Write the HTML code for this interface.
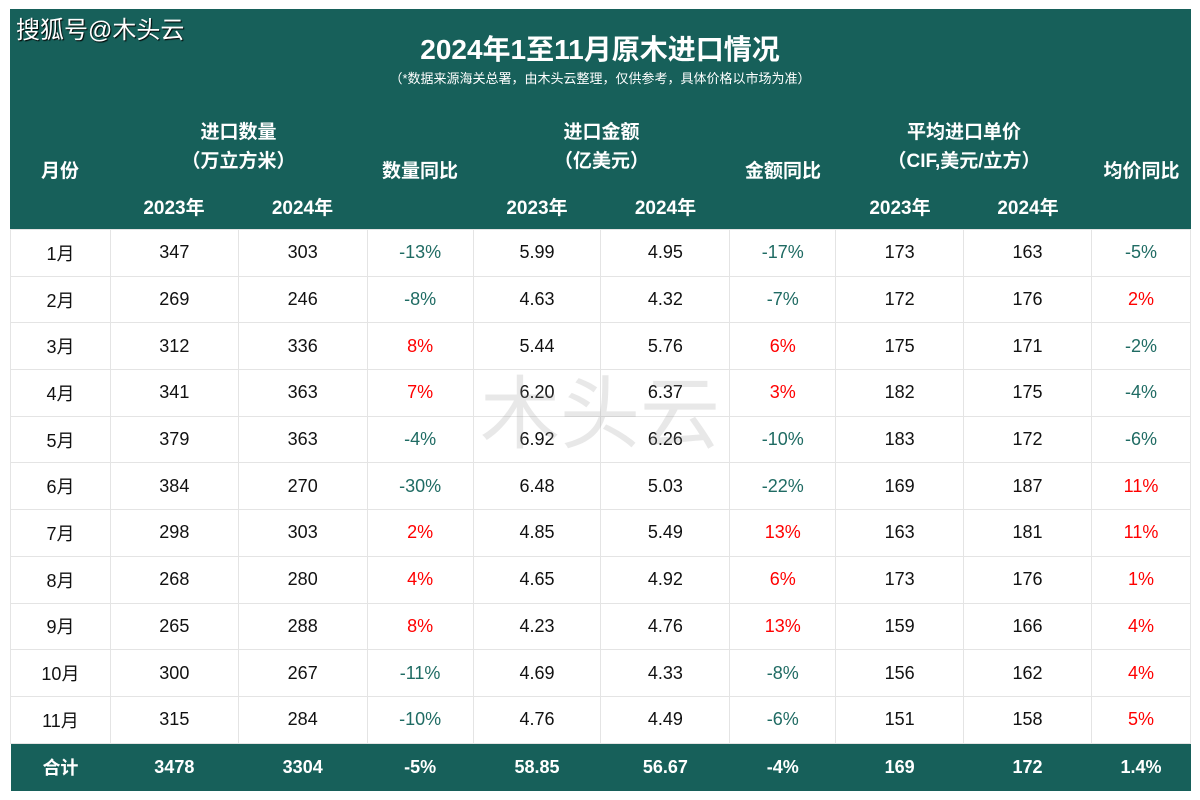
<!DOCTYPE html>
<html><head><meta charset="utf-8"><style>
body{margin:0;width:1200px;height:800px;background:#fff;position:relative;overflow:hidden;font-family:"Liberation Sans","Noto Sans CJK SC",sans-serif}
.a{position:absolute;text-align:center;white-space:nowrap}
.hd{position:absolute;left:10px;top:9px;width:1181px;height:220px;background:#17605a}
.w{color:#fff;font-weight:bold}
table{position:absolute;left:10px;top:229px;border-collapse:collapse;width:1181px}
td{height:45.7px;border:1px solid #e4e4e4;text-align:center;font-size:18px;color:#111;padding:0}
td:first-child{font-size:18px}
tr.t td{background:#17605a;color:#fff;font-weight:bold;height:47px;border:none}
.n{color:#1f6b63}.p{color:#f00}
.h{font-size:19px}
</style></head><body>
<div class="hd"></div>
<div class="a w" style="left:16px;top:10px;font-size:24px;font-weight:normal;text-shadow:1px 1px 1px #000">搜狐号@木头云</div>
<div class="a w" style="left:0;width:1200px;top:28px;font-size:28px">2024年1至11月原木进口情况</div>
<div class="a" style="left:0;width:1200px;top:68px;font-size:13px;color:#fff">（*数据来源海关总署，由木头云整理，仅供参考，具体价格以市场为准）</div>
<div class="a w h" style="left:10px;width:100px;top:156px">月份</div>
<div class="a w h" style="left:110px;width:257px;top:118px;line-height:29px">进口数量<br>（万立方米）</div>
<div class="a w h" style="left:110px;width:128px;top:193px">2023年</div>
<div class="a w h" style="left:238px;width:129px;top:193px">2024年</div>
<div class="a w h" style="left:367px;width:106px;top:156px">数量同比</div>
<div class="a w h" style="left:473px;width:257px;top:118px;line-height:29px">进口金额<br>（亿美元）</div>
<div class="a w h" style="left:473px;width:128px;top:193px">2023年</div>
<div class="a w h" style="left:601px;width:129px;top:193px">2024年</div>
<div class="a w h" style="left:730px;width:106px;top:156px">金额同比</div>
<div class="a w h" style="left:836px;width:256px;top:118px;line-height:29px">平均进口单价<br>（CIF,美元/立方）</div>
<div class="a w h" style="left:836px;width:128px;top:193px">2023年</div>
<div class="a w h" style="left:964px;width:128px;top:193px">2024年</div>
<div class="a w h" style="left:1092px;width:99px;top:156px">均价同比</div>
<table>
<colgroup><col style="width:100px"><col style="width:128px"><col style="width:129px"><col style="width:106px"><col style="width:128px"><col style="width:129px"><col style="width:106px"><col style="width:128px"><col style="width:128px"><col style="width:99px"></colgroup>
<tr><td>1月</td><td>347</td><td>303</td><td class="n">-13%</td><td>5.99</td><td>4.95</td><td class="n">-17%</td><td>173</td><td>163</td><td class="n">-5%</td></tr>
<tr><td>2月</td><td>269</td><td>246</td><td class="n">-8%</td><td>4.63</td><td>4.32</td><td class="n">-7%</td><td>172</td><td>176</td><td class="p">2%</td></tr>
<tr><td>3月</td><td>312</td><td>336</td><td class="p">8%</td><td>5.44</td><td>5.76</td><td class="p">6%</td><td>175</td><td>171</td><td class="n">-2%</td></tr>
<tr><td>4月</td><td>341</td><td>363</td><td class="p">7%</td><td>6.20</td><td>6.37</td><td class="p">3%</td><td>182</td><td>175</td><td class="n">-4%</td></tr>
<tr><td>5月</td><td>379</td><td>363</td><td class="n">-4%</td><td>6.92</td><td>6.26</td><td class="n">-10%</td><td>183</td><td>172</td><td class="n">-6%</td></tr>
<tr><td>6月</td><td>384</td><td>270</td><td class="n">-30%</td><td>6.48</td><td>5.03</td><td class="n">-22%</td><td>169</td><td>187</td><td class="p">11%</td></tr>
<tr><td>7月</td><td>298</td><td>303</td><td class="p">2%</td><td>4.85</td><td>5.49</td><td class="p">13%</td><td>163</td><td>181</td><td class="p">11%</td></tr>
<tr><td>8月</td><td>268</td><td>280</td><td class="p">4%</td><td>4.65</td><td>4.92</td><td class="p">6%</td><td>173</td><td>176</td><td class="p">1%</td></tr>
<tr><td>9月</td><td>265</td><td>288</td><td class="p">8%</td><td>4.23</td><td>4.76</td><td class="p">13%</td><td>159</td><td>166</td><td class="p">4%</td></tr>
<tr><td>10月</td><td>300</td><td>267</td><td class="n">-11%</td><td>4.69</td><td>4.33</td><td class="n">-8%</td><td>156</td><td>162</td><td class="p">4%</td></tr>
<tr><td>11月</td><td>315</td><td>284</td><td class="n">-10%</td><td>4.76</td><td>4.49</td><td class="n">-6%</td><td>151</td><td>158</td><td class="p">5%</td></tr>
<tr class="t"><td>合计</td><td>3478</td><td>3304</td><td>-5%</td><td>58.85</td><td>56.67</td><td>-4%</td><td>169</td><td>172</td><td>1.4%</td></tr>
</table>
<div class="a" style="left:460px;width:280px;top:350px;font-size:80px;color:rgba(150,150,150,0.22)">木头云</div>
</body></html>
